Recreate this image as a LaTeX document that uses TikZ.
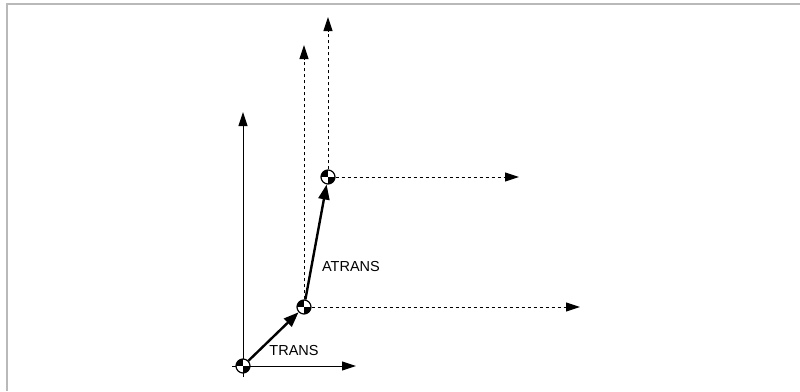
\documentclass[tikz,border=0pt]{standalone}
\usepackage{fontspec}
\setmainfont{Liberation Sans}
\usetikzlibrary{arrows.meta}
\tikzset{
  csmark/.style={circle,draw,line width=1.2pt,fill=white,minimum size=14pt,inner sep=0pt,
    path picture={
      \fill[black] (path picture bounding box.center) rectangle (path picture bounding box.north west);
      \fill[black] (path picture bounding box.center) rectangle (path picture bounding box.south east);}},
  axis/.style={line width=1pt,-{Triangle[length=14pt,width=9pt]}},
  daxis/.style={axis,dash pattern=on 3.5pt off 2.5pt},
  trans/.style={line width=2.4pt,-{Triangle[length=15pt,width=11pt]}},
  lbl/.style={font=\fontsize{14.5}{17}\selectfont,inner sep=0pt}
}
\begin{document}
\begin{tikzpicture}[x=1pt,y=-1pt]
	\useasboundingbox (0,0) rectangle (800,391);
	\draw[gray!55,line width=2pt] (7,391) -- (7,4) -- (800,4);
	\coordinate (x1s) at (232,366);
	\coordinate (x1) at (356,366);
	\coordinate (y1s) at (243,377);
	\coordinate (y1) at (243,112);
	\draw[axis] (x1s) -- (x1);
	\draw[axis] (y1s) -- (y1);
	\node[csmark] (o1) at (243,366) {};
	\node[csmark] (o2) at (304,307) {};
	\node[csmark] (o3) at (328,177) {};
	\coordinate (x2) at (580,307);
	\coordinate (y2) at (304,45);
	\coordinate (x3) at (519,177);
	\coordinate (y3) at (328,17);
	\draw[daxis] (o2) -- (x2);
	\draw[daxis] (o2) -- (y2);
	\draw[daxis] (o3) -- (x3);
	\draw[daxis] (o3) -- (y3);
	\draw[trans] (o1) -- (o2);
	\draw[trans] (o2) -- (o3);
	\node[lbl] (ltrans) at (294,351) {TRANS};
	\node[lbl] (latrans) at (351,267) {ATRANS};
\end{tikzpicture}
\end{document}
